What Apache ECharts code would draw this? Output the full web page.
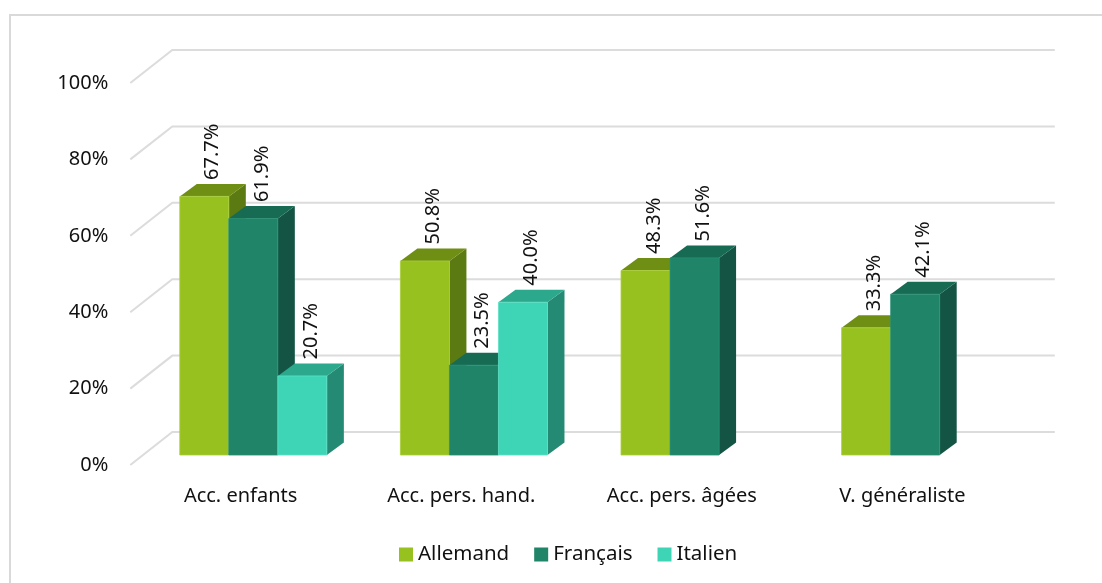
<!DOCTYPE html>
<html>
<head>
<meta charset="utf-8">
<script src="https://cdn.jsdelivr.net/npm/echarts@6/dist/echarts.min.js"></script>
<style>
html,body{margin:0;padding:0;background:#fff;}
#main{width:1102px;height:583px;}
</style>
</head>
<body>
<div id="main"></div>
<script>
const categories = ['Acc. enfants', 'Acc. pers. hand.', 'Acc. pers. âgées', 'V. généraliste'];
const allemand = [67.7, 50.8, 48.3, 33.3];
const francais = [61.9, 23.5, 51.6, 42.1];
const italien = [20.7, 40.0, null, null];
const yTicks = [0, 20, 40, 60, 80, 100];
const seriesNames = ['Allemand', 'Français', 'Italien'];

const FONT = 'Noto Sans';
const TXT = '#111111';
// 3D geometry (pixels)
const DX = 17, DY = -12.5;            // bar depth
const FRONT = [-12.7, 10];             // front plane offset from bar plane
const BACK = [29.3, -23];              // back wall offset from bar plane

const palettes = [
  { front: '#97C11F', top: '#6F8E14', side: '#5C7A12', edge: '#A9CF3A' },
  { front: '#1F8468', top: '#176B53', side: '#135444', edge: '#2A9175' },
  { front: '#3DD5B6', top: '#2CA88C', side: '#258A73', edge: '#5FE0C5' }
];

function barRender(sIdx) {
  return function (params, api) {
    const idx = api.value(0);
    const v = api.value(1);
    if (v == null || isNaN(v)) return null;
    const c0 = api.coord([idx, 0]);
    const c1 = api.coord([idx, v]);
    const band = api.size([1, 0])[0];
    const bw = band * 49 / 220.5;
    const x0 = c0[0] - 1.5 * bw + sIdx * bw;
    const x1 = x0 + bw;
    const yb = c0[1];
    const yt = c1[1];
    const p = palettes[sIdx];
    return {
      type: 'group',
      children: [
        { type: 'polygon', shape: { points: [[x1, yt], [x1 + DX, yt + DY], [x1 + DX, yb + DY], [x1, yb]] },
          style: { fill: p.side } },
        { type: 'polygon', shape: { points: [[x0, yt], [x1, yt], [x1 + DX, yt + DY], [x0 + DX, yt + DY]] },
          style: { fill: p.top } },
        { type: 'rect', shape: { x: x0, y: yt, width: bw, height: yb - yt },
          style: { fill: p.front, stroke: p.edge, lineWidth: 0.8 } },
        { type: 'text', x: x0 + bw / 2 + 8.5, y: yt + DY - 4, rotation: Math.PI / 2,
          style: { text: v.toFixed(1) + '%', x: 0, y: 0, align: 'left', verticalAlign: 'middle',
                   font: '20px "' + FONT + '"', fill: TXT } }
      ]
    };
  };
}

function gridRender(params, api) {
  const cs = params.coordSys;
  const y = api.coord([0, api.value(1)])[1];
  const left = cs.x;
  const right = cs.x + cs.width;
  return {
    type: 'polyline',
    shape: { points: [[left + FRONT[0], y + FRONT[1]], [left + BACK[0], y + BACK[1]], [right + BACK[0], y + BACK[1]]] },
    style: { stroke: '#dcdcdc', lineWidth: 2, fill: null }
  };
}

const dataSets = [allemand, francais, italien];

const chart = echarts.init(document.getElementById('main'), null, { renderer: 'canvas' });
chart.setOption({
  backgroundColor: '#ffffff',
  animation: false,
  textStyle: { fontFamily: FONT },
  graphic: [
    { type: 'rect', z: -10, silent: true,
      shape: { x: 10, y: 15, width: 1200, height: 700 },
      style: { fill: null, stroke: '#d9d9d9', lineWidth: 2 } }
  ],
  legend: {
    data: seriesNames,
    left: 399, top: 544,
    icon: 'rect', itemWidth: 14, itemHeight: 14, itemGap: 25,
    textStyle: { fontSize: 20.5, fontFamily: FONT, color: TXT, lineHeight: 20 },
    padding: 0
  },
  grid: [
    { left: 143, top: 73, width: 882.5, height: 382 },
    { left: 130.3, top: 83, width: 882.5, height: 382 }
  ],
  xAxis: [
    { type: 'category', gridIndex: 0, data: categories, show: false },
    { type: 'category', gridIndex: 1, data: categories,
      axisLine: { show: false }, axisTick: { show: false },
      axisLabel: { fontSize: 20, fontFamily: FONT, color: TXT, margin: 21, lineHeight: 20 } }
  ],
  yAxis: [
    { type: 'value', gridIndex: 0, min: 0, max: 100, interval: 20, show: false, splitLine: { show: false } },
    { type: 'value', gridIndex: 1, min: 0, max: 100, interval: 20,
      axisLine: { show: false }, axisTick: { show: false }, splitLine: { show: false },
      axisLabel: { formatter: '{value}%', fontSize: 20, fontFamily: FONT, color: TXT, margin: 22 } }
  ],
  series: [
    { type: 'custom', name: '_grid', xAxisIndex: 0, yAxisIndex: 0, z: 1, silent: true,
      renderItem: gridRender, encode: { x: 0, y: 1 },
      data: yTicks.map(v => [0, v]) }
  ].concat(seriesNames.map((name, s) => ({
    type: 'custom', name: name, xAxisIndex: 0, yAxisIndex: 0, z: 2 + s,
    itemStyle: { color: palettes[s].front },
    renderItem: barRender(s), encode: { x: 0, y: 1 },
    data: dataSets[s].map((v, i) => [i, v])
  })))
});
</script>
</body>
</html>
